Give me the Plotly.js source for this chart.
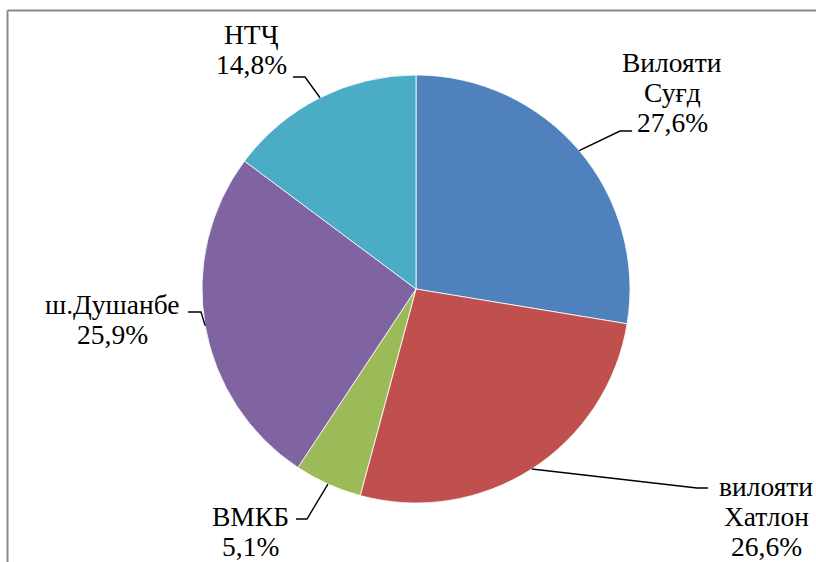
<!DOCTYPE html>
<html>
<head>
<meta charset="utf-8">
<script src="https://cdn.plot.ly/plotly-3.0.1.min.js"></script>
<style>html,body{margin:0;padding:0;background:#fff;}#chart{width:816px;height:562px;}</style>
</head>
<body>
<div id="chart"></div>
<script>
// ---- data ----
const categories = ["Вилояти<br>Суғд", "вилояти<br>Хатлон", "ВМКБ", "ш.Душанбе", "НТҶ"];
const values = [27.6, 26.6, 5.1, 25.9, 14.8];
const percentLabels = ["27,6%", "26,6%", "5,1%", "25,9%", "14,8%"];
const colors = ["#4F81BD", "#C0504D", "#9BBB59", "#8064A2", "#4BACC6"];

// ---- layout geometry (pixels) ----
const W = 816, H = 562;
const cx = 416, cy = 289, R = 214;
// label layout: centre x, first line y (cap centre), leader: text-end x, elbow x, elbow y
const labelPos = [
  [672, 62.5, 632, 620, 131],
  [766, 486, 708, 697, 488],
  [250, 516.5, 296, 307, 519],
  [112, 304.5, 188, 201, 312],
  [251, 34.5, 293, 305, 77]
];
const lineGap = 30;

const px = x => x / W;
const py = y => 1 - y / H;

const total = values.reduce((a, b) => a + b, 0);
const shapes = [];
const annotations = [];
let start = 90; // 12 o'clock, clockwise
values.forEach((v, i) => {
  const span = v / total * 360;
  const mid = (start - span / 2) * Math.PI / 180;
  start -= span;
  const ex = cx + R * Math.cos(mid);
  const ey = cy - R * Math.sin(mid);
  const [tx, ty, lx, bx, by] = labelPos[i];
  shapes.push({
    type: "path", xref: "paper", yref: "paper",
    path: `M ${px(ex)} ${py(ey)} L ${px(bx)} ${py(by)} L ${px(lx)} ${py(by)}`,
    line: {color: "#000", width: 1.4}
  });
  const lines = categories[i].split("<br>").concat([percentLabels[i]]);
  lines.forEach((t, k) => {
    annotations.push({
      xref: "paper", yref: "paper", x: px(tx), y: py(ty + k * lineGap),
      xanchor: "center", yanchor: "middle", showarrow: false, align: "center",
      text: t,
      font: {family: "Liberation Serif, Times New Roman, serif", size: 27.5, color: "#000"}
    });
  });
});

// chart frame
shapes.push({type: "line", xref: "paper", yref: "paper", x0: px(7.5), y0: py(10.5), x1: px(820), y1: py(10.5), line: {color: "#898989", width: 2}});
shapes.push({type: "line", xref: "paper", yref: "paper", x0: px(7.5), y0: py(10.5), x1: px(7.5), y1: py(570), line: {color: "#898989", width: 2}});

const trace = {
  type: "pie", values: values, labels: categories, sort: false,
  direction: "clockwise", rotation: 0, textinfo: "none",
  marker: {colors: colors, line: {color: "#ffffff", width: 0.8}},
  showlegend: false,
  domain: {x: [px(cx - R), px(cx + R)], y: [py(cy + R), py(cy - R)]}
};

const layout = {
  width: W, height: H,
  margin: {l: 0, r: 0, t: 0, b: 0},
  paper_bgcolor: "#ffffff",
  showlegend: false,
  shapes: shapes,
  annotations: annotations
};

Plotly.newPlot("chart", [trace], layout, {staticPlot: true, displayModeBar: false});
</script>
</body>
</html>
